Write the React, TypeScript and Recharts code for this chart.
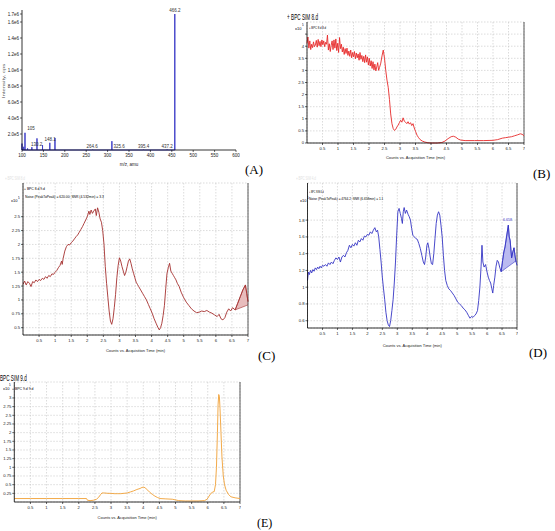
import React from 'react';
import {
  ComposedChart,
  Line,
  Area,
  XAxis,
  YAxis,
  CartesianGrid,
  ReferenceLine,
  LabelList,
  Label,
} from 'recharts';

// ---- (A) mass spectrum: [m/z, intensity]
const spectrumPeaks: [number, number][] = [
  [100, 80000], [104, 40000], [107, 215000], [113, 20000], [123, 35000],
  [135, 145000], [148, 60000], [165, 90000], [177, 150000], [265, 4000],
  [310, 110000], [384, 4000], [439, 5000], [457, 1700000],
];
// peak annotations: [m/z, intensity, text] (text centre)
const spectrumLabels: [number, number, string][] = [
  [121, 275000, '105'], [134, 71000, '130.2'], [166, 134000, '148.1'],
  [264, 50000, '264.6'], [327, 50000, '325.6'], [384, 50000, '395.4'],
  [439, 50000, '437.2'], [457, 1741000, '466.2'],
];
const massTicks = [100, 150, 200, 250, 300, 350, 400, 450, 500, 550, 600];
const intensityTicks = [200000, 400000, 600000, 800000, 1000000, 1200000, 1400000, 1600000, 1700000];

// ---- shared time axis
const timeTicks = [0.5, 1, 1.5, 2, 2.5, 3, 3.5, 4, 4.5, 5, 5.5, 6, 6.5, 7];
const timeTitle = 'Counts vs. Acquisition Time (min)';

// ---- (B) BPC SIM 8.d  [min, x10^5]
const bpc8Trace = [
  [0.00, 4.12], [0.03, 4.38], [0.06, 3.92], [0.09, 4.22], [0.12, 3.86], [0.15, 4.08], [0.18, 3.94],
  [0.21, 4.18], [0.24, 3.98], [0.27, 4.05], [0.30, 4.24], [0.33, 3.96], [0.36, 4.28], [0.39, 4.02],
  [0.42, 4.2], [0.45, 3.98], [0.48, 4.26], [0.51, 4.06], [0.54, 4.22], [0.57, 3.98], [0.60, 4.16],
  [0.63, 4.08], [0.66, 4.46], [0.69, 3.84], [0.72, 4.1], [0.75, 3.78], [0.78, 4.04], [0.81, 4.22],
  [0.84, 3.86], [0.87, 4.26], [0.90, 3.92], [0.93, 4.3], [0.96, 3.82], [0.99, 4.12], [1.02, 3.74],
  [1.05, 4.36], [1.08, 3.9], [1.11, 4.08], [1.14, 3.76], [1.17, 3.96], [1.20, 3.66], [1.23, 3.9],
  [1.26, 3.7], [1.29, 3.92], [1.32, 3.62], [1.35, 3.8], [1.38, 3.58], [1.41, 3.84], [1.44, 3.52],
  [1.47, 3.74], [1.50, 3.56], [1.53, 3.78], [1.56, 3.48], [1.59, 3.72], [1.62, 3.52], [1.65, 3.68],
  [1.68, 3.42], [1.71, 3.74], [1.74, 3.46], [1.77, 3.62], [1.80, 3.36], [1.83, 3.58], [1.86, 3.32],
  [1.89, 3.64], [1.92, 3.34], [1.95, 3.56], [1.98, 3.22], [2.01, 3.5], [2.04, 3.18], [2.07, 3.4],
  [2.10, 3.08], [2.13, 3.36], [2.16, 3.02], [2.19, 3.26], [2.22, 2.98], [2.25, 3.14], [2.28, 3.32],
  [2.31, 3.0], [2.34, 3.12], [2.38, 3.3], [2.42, 3.6], [2.46, 3.84], [2.50, 3.5], [2.54, 3.0],
  [2.58, 2.6], [2.62, 2.3], [2.66, 1.8], [2.70, 1.2], [2.74, 0.8], [2.78, 0.6], [2.82, 0.52],
  [2.86, 0.56], [2.90, 0.66], [2.94, 0.74], [2.98, 0.84], [3.02, 0.94], [3.06, 0.86], [3.10, 1.04],
  [3.14, 0.9], [3.18, 0.86], [3.22, 0.8], [3.26, 0.88], [3.30, 0.78], [3.34, 0.84], [3.38, 0.72],
  [3.42, 0.8], [3.46, 0.62], [3.50, 0.48], [3.55, 0.32], [3.60, 0.22], [3.65, 0.14], [3.72, 0.08],
  [3.80, 0.04], [3.90, 0.01], [4.00, 0.0], [4.20, 0.0], [4.35, 0.02], [4.45, 0.08], [4.55, 0.18],
  [4.65, 0.26], [4.72, 0.28], [4.80, 0.24], [4.88, 0.16], [4.96, 0.12], [5.10, 0.1], [5.40, 0.1],
  [5.70, 0.1], [6.00, 0.11], [6.15, 0.14], [6.30, 0.2], [6.40, 0.22], [6.50, 0.24], [6.60, 0.26],
  [6.70, 0.3], [6.80, 0.34], [6.88, 0.38], [6.94, 0.36], [7.00, 0.3],
];
const bTicks = [0, 0.5, 1, 1.5, 2, 2.5, 3, 3.5, 4, 4.5];

// ---- (C) BPC 9.d
const bpc9Trace = [
  [0, 1.28], [0.05, 1.34], [0.1, 1.27], [0.15, 1.33], [0.2, 1.3], [0.25, 1.24], [0.3, 1.33], [0.35, 1.31],
  [0.4, 1.36], [0.45, 1.33], [0.5, 1.37], [0.55, 1.35], [0.6, 1.39], [0.65, 1.37], [0.7, 1.42], [0.75, 1.39],
  [0.8, 1.44], [0.85, 1.42], [0.9, 1.47], [0.95, 1.46], [1.0, 1.5], [1.05, 1.53], [1.1, 1.58], [1.15, 1.62],
  [1.2, 1.7], [1.22, 1.64], [1.25, 1.75], [1.3, 1.88], [1.35, 1.96], [1.4, 2.0], [1.45, 1.99], [1.5, 2.03],
  [1.55, 2.06], [1.6, 2.1], [1.65, 2.14], [1.7, 2.17], [1.75, 2.22], [1.8, 2.27], [1.85, 2.32], [1.9, 2.38],
  [1.95, 2.44], [2.0, 2.5], [2.05, 2.6], [2.08, 2.54], [2.12, 2.62], [2.16, 2.56], [2.2, 2.6], [2.25, 2.64],
  [2.28, 2.52], [2.32, 2.66], [2.36, 2.58], [2.4, 2.46], [2.44, 2.4], [2.48, 2.25], [2.52, 2.0], [2.56, 1.6],
  [2.6, 1.3], [2.64, 1.05], [2.68, 0.8], [2.72, 0.62], [2.76, 0.56], [2.8, 0.66], [2.84, 0.86], [2.88, 1.1],
  [2.92, 1.4], [2.96, 1.62], [3.0, 1.76], [3.04, 1.7], [3.08, 1.6], [3.12, 1.52], [3.16, 1.44], [3.2, 1.5],
  [3.24, 1.6], [3.28, 1.7], [3.32, 1.74], [3.36, 1.66], [3.4, 1.56], [3.44, 1.48], [3.48, 1.4], [3.52, 1.32],
  [3.56, 1.28], [3.6, 1.24], [3.66, 1.18], [3.72, 1.12], [3.78, 1.06], [3.84, 1.0], [3.9, 0.92], [3.96, 0.84],
  [4.02, 0.76], [4.08, 0.66], [4.14, 0.58], [4.2, 0.5], [4.24, 0.46], [4.28, 0.5], [4.32, 0.58], [4.36, 0.72],
  [4.4, 0.9], [4.44, 1.2], [4.48, 1.48], [4.52, 1.58], [4.56, 1.66], [4.6, 1.52], [4.64, 1.48], [4.68, 1.44],
  [4.72, 1.4], [4.76, 1.36], [4.8, 1.3], [4.86, 1.24], [4.92, 1.14], [5.0, 1.04], [5.08, 0.96], [5.16, 0.9],
  [5.24, 0.84], [5.32, 0.8], [5.4, 0.77], [5.48, 0.78], [5.56, 0.8], [5.64, 0.79], [5.72, 0.81], [5.8, 0.78],
  [5.88, 0.76], [5.96, 0.73], [6.04, 0.7], [6.1, 0.74], [6.16, 0.66], [6.22, 0.64], [6.28, 0.68], [6.34, 0.78],
  [6.4, 0.84], [6.46, 0.8], [6.52, 0.86], [6.6, 0.82], [6.68, 0.94], [6.76, 1.06], [6.84, 1.18], [6.92, 1.27],
  [6.96, 1.12], [7.0, 0.97],
];
// noise band: [min, baseline, signal]
const bpc9Noise = [
  [6.6, 0.82, 0.82], [6.68, 0.838, 0.94], [6.76, 0.856, 1.06], [6.84, 0.874, 1.18],
  [6.92, 0.892, 1.27], [6.96, 0.901, 1.12], [7.0, 0.91, 0.97],
];
const cTicks = [0.5, 0.75, 1, 1.25, 1.5, 1.75, 2, 2.25, 2.5];

// ---- (D) BPC SIM 4.d
const sim4Trace = [
  [0, 1.08], [0.03, 1.18], [0.06, 1.15], [0.1, 1.2], [0.14, 1.17], [0.18, 1.21], [0.22, 1.19], [0.26, 1.23],
  [0.3, 1.21], [0.34, 1.24], [0.38, 1.22], [0.42, 1.25], [0.46, 1.23], [0.5, 1.26], [0.55, 1.25], [0.6, 1.27],
  [0.65, 1.25], [0.7, 1.29], [0.75, 1.27], [0.8, 1.3], [0.85, 1.28], [0.9, 1.32], [0.95, 1.35], [1.0, 1.33],
  [1.05, 1.36], [1.1, 1.3], [1.15, 1.36], [1.2, 1.38], [1.25, 1.36], [1.3, 1.41], [1.35, 1.44], [1.4, 1.5],
  [1.45, 1.47], [1.5, 1.51], [1.55, 1.49], [1.6, 1.53], [1.65, 1.5], [1.7, 1.56], [1.75, 1.54], [1.8, 1.58],
  [1.85, 1.56], [1.9, 1.61], [1.95, 1.6], [2.0, 1.63], [2.05, 1.62], [2.1, 1.66], [2.15, 1.64], [2.2, 1.68],
  [2.25, 1.71], [2.3, 1.66], [2.34, 1.68], [2.38, 1.6], [2.42, 1.45], [2.46, 1.3], [2.5, 1.12], [2.54, 0.98],
  [2.58, 0.85], [2.62, 0.7], [2.66, 0.6], [2.7, 0.55], [2.74, 0.53], [2.78, 0.6], [2.82, 0.72], [2.86, 0.85],
  [2.9, 1.05], [2.94, 1.3], [2.98, 1.62], [3.02, 1.9], [3.06, 1.94], [3.1, 1.88], [3.14, 1.82], [3.17, 1.76],
  [3.2, 1.9], [3.23, 1.95], [3.27, 1.88], [3.31, 1.92], [3.36, 1.87], [3.4, 1.84], [3.44, 1.8], [3.48, 1.7],
  [3.52, 1.62], [3.57, 1.6], [3.62, 1.58], [3.67, 1.57], [3.72, 1.52], [3.77, 1.46], [3.82, 1.38], [3.87, 1.3],
  [3.91, 1.27], [3.95, 1.36], [3.99, 1.5], [4.02, 1.53], [4.06, 1.46], [4.1, 1.36], [4.14, 1.28], [4.18, 1.27],
  [4.22, 1.4], [4.26, 1.58], [4.3, 1.76], [4.34, 1.86], [4.38, 1.9], [4.42, 1.86], [4.46, 1.74], [4.5, 1.6],
  [4.54, 1.38], [4.58, 1.2], [4.62, 1.08], [4.67, 1.02], [4.72, 0.98], [4.78, 0.96], [4.84, 0.93], [4.9, 0.9],
  [4.96, 0.86], [5.02, 0.82], [5.08, 0.8], [5.14, 0.78], [5.2, 0.75], [5.26, 0.73], [5.32, 0.7], [5.38, 0.66],
  [5.43, 0.63], [5.48, 0.65], [5.53, 0.64], [5.58, 0.66], [5.63, 0.68], [5.68, 0.72], [5.72, 0.84], [5.76, 1.0],
  [5.8, 1.25], [5.83, 1.5], [5.86, 1.3], [5.9, 1.24], [5.95, 1.27], [6.0, 1.18], [6.04, 1.12], [6.08, 1.08],
  [6.12, 1.05], [6.16, 0.98], [6.19, 0.93], [6.22, 1.02], [6.26, 1.12], [6.3, 1.25], [6.34, 1.32], [6.38, 1.3],
  [6.42, 1.24], [6.47, 1.185], [6.52, 1.32], [6.56, 1.42], [6.6, 1.48], [6.65, 1.6], [6.71, 1.74], [6.74, 1.6],
  [6.77, 1.56], [6.82, 1.35], [6.86, 1.42], [6.9, 1.47], [6.94, 1.36], [6.97, 1.3], [7.0, 1.26],
];
const sim4Noise = [
  [6.47, 1.185, 1.185], [6.52, 1.198, 1.32], [6.56, 1.208, 1.42], [6.6, 1.219, 1.48], [6.65, 1.232, 1.6],
  [6.71, 1.247, 1.74], [6.74, 1.255, 1.6], [6.77, 1.263, 1.56], [6.82, 1.276, 1.35], [6.86, 1.286, 1.42],
  [6.9, 1.297, 1.47], [6.94, 1.307, 1.36], [6.97, 1.315, 1.3],
];
const sim4Labels: [number, number, string][] = [[6.68, 1.8, '6.658']];
const dTicks = [0.6, 0.8, 1, 1.2, 1.4, 1.6, 1.8];

// ---- (E) BPC SIM 9.d
const sim9Trace = [
  [0, 0.1], [0.5, 0.1], [1.0, 0.1], [1.5, 0.1], [2.0, 0.1], [2.24, 0.1], [2.27, 0.05], [2.35, 0.04],
  [2.45, 0.05], [2.55, 0.08], [2.62, 0.14], [2.68, 0.22], [2.72, 0.26], [2.8, 0.26], [2.9, 0.25], [3.0, 0.25],
  [3.1, 0.24], [3.2, 0.24], [3.3, 0.24], [3.4, 0.25], [3.5, 0.26], [3.6, 0.29], [3.7, 0.32], [3.8, 0.36],
  [3.9, 0.39], [3.96, 0.42], [4.02, 0.43], [4.08, 0.39], [4.14, 0.34], [4.2, 0.28], [4.28, 0.22], [4.36, 0.17],
  [4.44, 0.13], [4.52, 0.1], [4.7, 0.09], [4.9, 0.08], [5.0, 0.06], [5.1, 0.04], [5.3, 0.03], [5.5, 0.03],
  [5.7, 0.03], [5.9, 0.04], [5.98, 0.08], [6.04, 0.17], [6.1, 0.25], [6.16, 0.29], [6.2, 0.3], [6.24, 0.5],
  [6.27, 1.0], [6.3, 2.0], [6.32, 2.8], [6.34, 3.1], [6.36, 3.05], [6.38, 2.7], [6.41, 2.0], [6.44, 1.3],
  [6.48, 0.77], [6.52, 0.5], [6.57, 0.34], [6.64, 0.22], [6.72, 0.15], [6.85, 0.12], [7.0, 0.1],
];
const eTicks = [0.25, 0.5, 0.75, 1, 1.25, 1.5, 1.75, 2, 2.25, 2.5, 2.75, 3];

const pts = (rows: number[][]) => rows.map(([x, y]) => ({ x, y }));
const band = (rows: number[][]) => rows.map(([x, lo, hi]) => ({ x, r: [lo, hi] }));
const tagged = (rows: [number, number, string][]) => rows.map(([x, y, t]) => ({ x, y, t }));
// stick spectrum: every peak goes up from the baseline and back
const sticks = spectrumPeaks.flatMap(([x, y]) => [{ x, y: 0 }, { x, y }, { x, y: 0 }]);

const SANS = '"Liberation Sans", Arial, sans-serif';
const NARROW = '"Liberation Sans Narrow", "Liberation Sans", sans-serif';
const tickFont = { fontSize: 4.2, fill: '#222', fontFamily: NARROW };
const axisStroke = { stroke: '#000', strokeWidth: 0.8 };
const tickStroke = { stroke: '#000', strokeWidth: 0.6 };

// tiny html text, drawn at 10px and scaled down so the browser never clamps it
const Txt = ({ x, cy, size, sx = 1, color = '#000', font = SANS, children }: any) => (
  <div
    style={{
      position: 'absolute', left: x, top: cy - size * 0.49, fontSize: 10, lineHeight: 1,
      fontFamily: font, color, whiteSpace: 'nowrap',
      transform: `scale(${(size / 10) * sx}, ${size / 10})`, transformOrigin: '0 0',
    }}
  >
    {children}
  </div>
);

const Exp = ({ x, cy }: any) => (
  <>
    <Txt x={x} cy={cy} size={4}>x10</Txt>
    <Txt x={x + 6.5} cy={cy - 3} size={3}>5</Txt>
  </>
);

const textLabel = (size: number, color: string) => (p: any) => (
  <text x={p.x} y={p.y} textAnchor="middle" dominantBaseline="central" fontSize={size} fill={color} fontFamily={SANS}>
    {p.value}
  </text>
);

const fmtE = (v: number) => v.toExponential(1).replace('+', '');

function TimePanel(props: any) {
  const { left, top, width, height, right, yWidth, yDomain, yTicks, yFormat, trace, color, noise, noiseFill, labels, titleOffset } = props;
  return (
    <div style={{ position: 'absolute', left, top }}>
      <ComposedChart width={width} height={height} margin={{ top: 10, right, bottom: 0, left: 0 }}>
        <CartesianGrid strokeDasharray="1.5 1.5" stroke="#c4c4c4" strokeWidth={0.6} />
        <XAxis
          type="number" dataKey="x" domain={[0, 7]} ticks={timeTicks} interval={0} height={20}
          tick={tickFont} tickSize={2} tickMargin={2} axisLine={axisStroke} tickLine={tickStroke}
        >
          <Label value={timeTitle} position="insideBottom" offset={titleOffset} fontSize={4} fill="#222" fontFamily={NARROW} />
        </XAxis>
        <YAxis
          type="number" domain={yDomain} ticks={yTicks} interval={0} width={yWidth}
          tick={tickFont} tickSize={2} tickMargin={1} tickFormatter={yFormat} axisLine={axisStroke} tickLine={tickStroke}
        />
        <ReferenceLine x={7} stroke="#333" strokeWidth={0.8} />
        {noise && (
          <Area data={band(noise)} dataKey="r" type="linear" stroke={color} strokeWidth={0.6}
            fill={noiseFill} fillOpacity={1} isAnimationActive={false} />
        )}
        <Line data={pts(trace)} dataKey="y" type="linear" stroke={color} strokeWidth={0.9} dot={false} isAnimationActive={false} />
        {labels && (
          <Line data={tagged(labels)} dataKey="y" stroke="none" dot={false} activeDot={false} isAnimationActive={false}>
            <LabelList dataKey="t" content={textLabel(3.6, color)} />
          </Line>
        )}
      </ComposedChart>
    </div>
  );
}

const SERIF = '"Liberation Serif", "Times New Roman", serif';

export default function App() {
  return (
    <div style={{ position: 'absolute', left: 0, top: 0, width: 555, height: 531, overflow: 'hidden', background: '#fff' }}>
      {/* (A) */}
      <div style={{ position: 'absolute', left: 0, top: 0 }}>
        <ComposedChart width={240} height={170} margin={{ top: 10, right: 4, bottom: 0, left: 0 }}>
          <XAxis
            type="number" dataKey="x" domain={[100, 600]} ticks={massTicks} interval={0} height={20}
            tick={{ ...tickFont, fontSize: 4.5, fontFamily: SANS }} tickSize={2} tickMargin={2}
            axisLine={axisStroke} tickLine={tickStroke}
          >
            <Label value="m/z, amu" position="insideBottom" offset={4.5} fontSize={4.5} fill="#222" fontFamily={SANS} />
          </XAxis>
          <YAxis
            type="number" domain={[0, 1750000]} ticks={intensityTicks} interval={0} width={22}
            tick={{ ...tickFont, fontSize: 4.5, fontFamily: SANS }} tickSize={2} tickMargin={1}
            tickFormatter={fmtE} axisLine={axisStroke} tickLine={tickStroke}
          />
          <Line data={sticks} dataKey="y" type="linear" stroke="#4040c8" strokeWidth={1} dot={false} isAnimationActive={false} />
          <Line data={tagged(spectrumLabels)} dataKey="y" stroke="none" dot={false} activeDot={false} isAnimationActive={false}>
            <LabelList dataKey="t" content={textLabel(4.5, '#333')} />
          </Line>
        </ComposedChart>
      </div>
      <div
        style={{
          position: 'absolute', left: 3.5, top: 81, fontSize: 10, lineHeight: 1, fontFamily: SANS, color: '#555',
          whiteSpace: 'nowrap', transform: 'translate(-50%, -50%) rotate(-90deg) scale(0.6, 0.42)',
        }}
      >
        Intensity, cps
      </div>

      {/* (B) */}
      <TimePanel
        left={281} top={12} width={244} height={151} right={1} yWidth={26} yDomain={[0, 5]} yTicks={bTicks}
        yFormat={(v: number) => (v === 4.5 ? '' : String(v))} trace={bpc8Trace} color="#e62a2a" titleOffset={4}
      />
      <Txt x={287} cy={17.7} size={8.8} sx={0.53}>+ BPC SIM 8.d</Txt>
      <Exp x={295} cy={28.5} />
      <Txt x={309} cy={28} size={3.8} sx={0.72}>+ BPC 8.d 8.d</Txt>

      {/* (C) */}
      <TimePanel
        left={0} top={173} width={250} height={182} right={2} yWidth={23} yDomain={[0.368, 3.107]} yTicks={cTicks}
        yFormat={(v: number) => String(v)} trace={bpc9Trace} color="#a5302f" noise={bpc9Noise} noiseFill="#e8bcbc" titleOffset={3}
      />
      <Txt x={5} cy={178.5} size={5} sx={0.6} color="#e2e2e2">+ BPC SIM 8.d</Txt>
      <Exp x={11} cy={201} />
      <Txt x={24} cy={189} size={3.8} sx={0.88}>+ BPC 8.d 9.d</Txt>
      <Txt x={25} cy={197.3} size={3.8} sx={0.88}>Noise (PeakToPeak) = 620.00; SNR (4.532min) = 3.3</Txt>

      {/* (D) */}
      <TimePanel
        left={282} top={173} width={236} height={175} right={1} yWidth={25.5} yDomain={[0.513, 2.243]} yTicks={dTicks}
        yFormat={(v: number) => String(v)} trace={sim4Trace} color="#3434c4" noise={sim4Noise} noiseFill="#babaf0"
        labels={sim4Labels} titleOffset={1.5}
      />
      <Txt x={296} cy={178.5} size={5} sx={0.6} color="#e2e2e2">+ BPC SIM 4.d</Txt>
      <Exp x={300} cy={201.3} />
      <Txt x={309} cy={192} size={3.8} sx={0.58}>+ BPC SIM 4.d</Txt>
      <Txt x={309} cy={198.7} size={3.8} sx={0.83}>Noise (PeakToPeak) = 4764.2; SNR (6.658min) = 1.1</Txt>

      {/* (E) */}
      <TimePanel
        left={0} top={372} width={241} height={150} right={1} yWidth={14.3} yDomain={[0, 3.46]} yTicks={eTicks}
        yFormat={(v: number) => String(v)} trace={sim9Trace} color="#f0a035" titleOffset={3}
      />
      <Txt x={0} cy={378.5} size={8.4} sx={0.55}>BPC SIM 9.d</Txt>
      <Exp x={2.7} cy={388.7} />
      <Txt x={12} cy={388.7} size={3.8} sx={0.9}>+ BPC 9.d 9.d</Txt>

      {/* panel tags */}
      <Txt x={245} cy={170.5} size={13} font={SERIF}>(A)</Txt>
      <Txt x={533} cy={174} size={13} font={SERIF}>(B)</Txt>
      <Txt x={258} cy={356} size={13} font={SERIF}>(C)</Txt>
      <Txt x={529} cy={353} size={13} font={SERIF}>(D)</Txt>
      <Txt x={257} cy={523} size={12} font={SERIF}>(E)</Txt>
    </div>
  );
}
